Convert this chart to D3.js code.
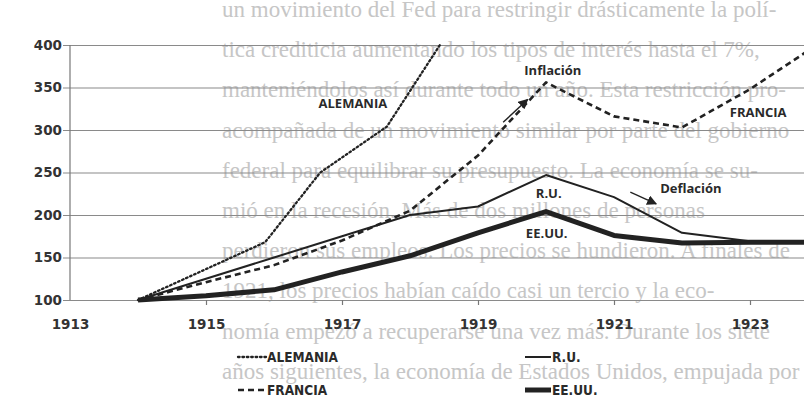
<!DOCTYPE html>
<html>
<head>
<meta charset="utf-8">
<script src="https://cdn.jsdelivr.net/npm/d3@7"></script>
<style>
  body { margin: 0; background: #fff; overflow: hidden; }
  svg { display: block; }
  .bg { font-family: "Liberation Serif", "DejaVu Serif", serif; font-size: 23px; fill: #c6c6c6; }
  .tick { font-family: "DejaVu Sans", sans-serif; font-weight: bold; font-size: 13.5px; fill: #333; }
  .lbl { font-family: "Open Sans", sans-serif; font-weight: 700; font-size: 13px; fill: #2a2a2a; }
  .leg { font-family: "DejaVu Sans", sans-serif; font-stretch: condensed; font-weight: bold; font-size: 13.5px; fill: #2a2a2a; }
</style>
</head>
<body>
<svg width="804" height="403"></svg>
<script>
// index base 1913 = 100
var years = [1914, 1915, 1916, 1917, 1918, 1919, 1920, 1921, 1922, 1923, 1924];
var francia = [100, 121, 141, 170, 205, 270, 356, 316, 303, 348, 401];
var ru      = [100, 125, 150, 175, 200, 210, 247, 221, 179, 169, 167];
var eeuu    = [100, 105, 112, 133, 152, 179, 204, 176, 167, 168, 168];
// Alemania goes off the top of the chart
var alemaniaYears = [1914, 1915.87, 1916.68, 1917.66, 1918.44];
var alemania      = [100, 168, 250, 304, 400];

var yTicks = [100, 150, 200, 250, 300, 350, 400];
var xTicks = [1913, 1915, 1917, 1919, 1921, 1923];

// text from the other side of the page that shows through the scan
var bgLines = [
  "un movimiento del Fed para restringir drásticamente la polí-",
  "tica crediticia aumentando los tipos de interés hasta el 7%,",
  "manteniéndolos así durante todo un año. Esta restricción pro-",
  "acompañada de un movimiento similar por parte del gobierno",
  "federal para equilibrar su presupuesto. La economía se su-",
  "mió en la recesión. Más de dos millones de personas",
  "perdieron sus empleos. Los precios se hundieron. A finales de",
  "1921, los precios habían caído casi un tercio y la eco-",
  "nomía empezó a recuperarse una vez más. Durante los siete",
  "años siguientes, la economía de Estados Unidos, empujada por",
  "nuevas tecnologías como los automóviles y las telecomunicacio-"
];

var svg = d3.select("svg");

var x = d3.scaleLinear().domain([1913, 1924]).range([70, 818]);
var y = d3.scaleLinear().domain([100, 400]).range([300, 45]);

// show-through text
svg.append("g")
  .selectAll("text")
  .data(bgLines)
  .join("text")
  .attr("class", "bg")
  .attr("x", 222)
  .attr("y", (d, i) => 17 + i * 40.2)
  .text(d => d);

// grid lines + y labels
var yAxis = d3.axisLeft(y)
  .tickValues(yTicks)
  .tickSize(-(804 - 63))
  .tickPadding(8)
  .tickFormat(d3.format("d"));

var gy = svg.append("g")
  .attr("transform", "translate(63,0)")
  .call(yAxis);
gy.select(".domain").remove();
gy.selectAll(".tick line").attr("stroke", "#8a8a8a").attr("stroke-width", 1.2);
gy.selectAll(".tick text").attr("class", "tick").attr("x", -1);

// vertical axis line
svg.append("line")
  .attr("x1", x(1913)).attr("x2", x(1913))
  .attr("y1", y(400)).attr("y2", y(100))
  .attr("stroke", "#777").attr("stroke-width", 1.2);

// x axis
var xAxis = d3.axisBottom(x)
  .tickValues(xTicks)
  .tickSize(5)
  .tickPadding(14)
  .tickFormat(d3.format("d"));

var gx = svg.append("g")
  .attr("transform", "translate(0," + y(100) + ")")
  .call(xAxis);
gx.select(".domain").remove();
gx.selectAll(".tick line").attr("stroke", "#777").attr("stroke-width", 1.2)
  .filter(d => d === 1913).remove();
gx.selectAll(".tick text").attr("class", "tick").attr("font-size", null);

// lines
var line = d3.line().x(d => x(d[0])).y(d => y(d[1]));
var zip = (xs, vs) => xs.map((v, i) => [v, vs[i]]);

var series = [
  { name: "ALEMANIA", data: zip(alemaniaYears, alemania), width: 2.3, dash: "1.6,2.8", cap: "round" },
  { name: "FRANCIA",  data: zip(years, francia), width: 2.6, dash: "6,4", cap: "butt" },
  { name: "R.U.",     data: zip(years, ru),      width: 2,   dash: null, cap: "butt" },
  { name: "EE.UU.",   data: zip(years, eeuu),    width: 5,   dash: null, cap: "butt" }
];

svg.append("g")
  .selectAll("path")
  .data(series)
  .join("path")
  .attr("fill", "none")
  .attr("stroke", "#222")
  .attr("stroke-width", d => d.width)
  .attr("stroke-dasharray", d => d.dash)
  .attr("stroke-linecap", d => d.cap)
  .attr("stroke-linejoin", "round")
  .attr("d", d => line(d.data));

// annotations (data coordinates)
var labels = [
  { text: "ALEMANIA",  year: 1917.16, val: 332 },
  { text: "Inflación", year: 1920.1,  val: 371 },
  { text: "FRANCIA",   year: 1923.12, val: 321 },
  { text: "R.U.",      year: 1920.04, val: 226 },
  { text: "EE.UU.",    year: 1920.01, val: 179 },
  { text: "Deflación", year: 1922.13, val: 232 }
];
svg.append("g")
  .selectAll("text")
  .data(labels)
  .join("text")
  .attr("class", "lbl")
  .attr("x", d => x(d.year))
  .attr("y", d => y(d.val))
  .attr("text-anchor", "middle")
  .attr("dominant-baseline", "central")
  .text(d => d.text);

var arrows = [
  { from: [1919.37, 309], to: [1919.73, 336] },
  { from: [1921.24, 227], to: [1921.62, 213] }
];
svg.append("defs").append("marker")
  .attr("id", "head")
  .attr("viewBox", "0 0 10 10")
  .attr("refX", 9).attr("refY", 5)
  .attr("markerWidth", 10).attr("markerHeight", 10)
  .attr("markerUnits", "userSpaceOnUse")
  .attr("orient", "auto")
  .append("path")
  .attr("d", "M0,0 L10,5 L0,10 Z")
  .attr("fill", "#222");
svg.append("g")
  .selectAll("line")
  .data(arrows)
  .join("line")
  .attr("x1", d => x(d.from[0])).attr("y1", d => y(d.from[1]))
  .attr("x2", d => x(d.to[0])).attr("y2", d => y(d.to[1]))
  .attr("stroke", "#222").attr("stroke-width", 1.4)
  .attr("marker-end", "url(#head)");

// legend
var legend = [
  { s: series[0], lx: 238, ly: 357 },
  { s: series[1], lx: 238, ly: 390 },
  { s: series[2], lx: 525, ly: 357 },
  { s: series[3], lx: 525, ly: 390 }
];
var lg = svg.append("g").selectAll("g").data(legend).join("g")
  .attr("transform", d => "translate(" + d.lx + "," + d.ly + ")");
lg.append("line")
  .attr("x1", 0).attr("x2", d => d.lx > 400 ? 26 : 28)
  .attr("y1", 0).attr("y2", 0)
  .attr("stroke", "#222")
  .attr("stroke-width", d => d.s.width)
  .attr("stroke-dasharray", d => d.s.dash)
  .attr("stroke-linecap", d => d.s.cap);
lg.append("text")
  .attr("class", "leg")
  .attr("x", d => d.lx > 400 ? 27 : 29)
  .attr("y", 0)
  .attr("dominant-baseline", "central")
  .text(d => d.s.name);
</script>
</body>
</html>
